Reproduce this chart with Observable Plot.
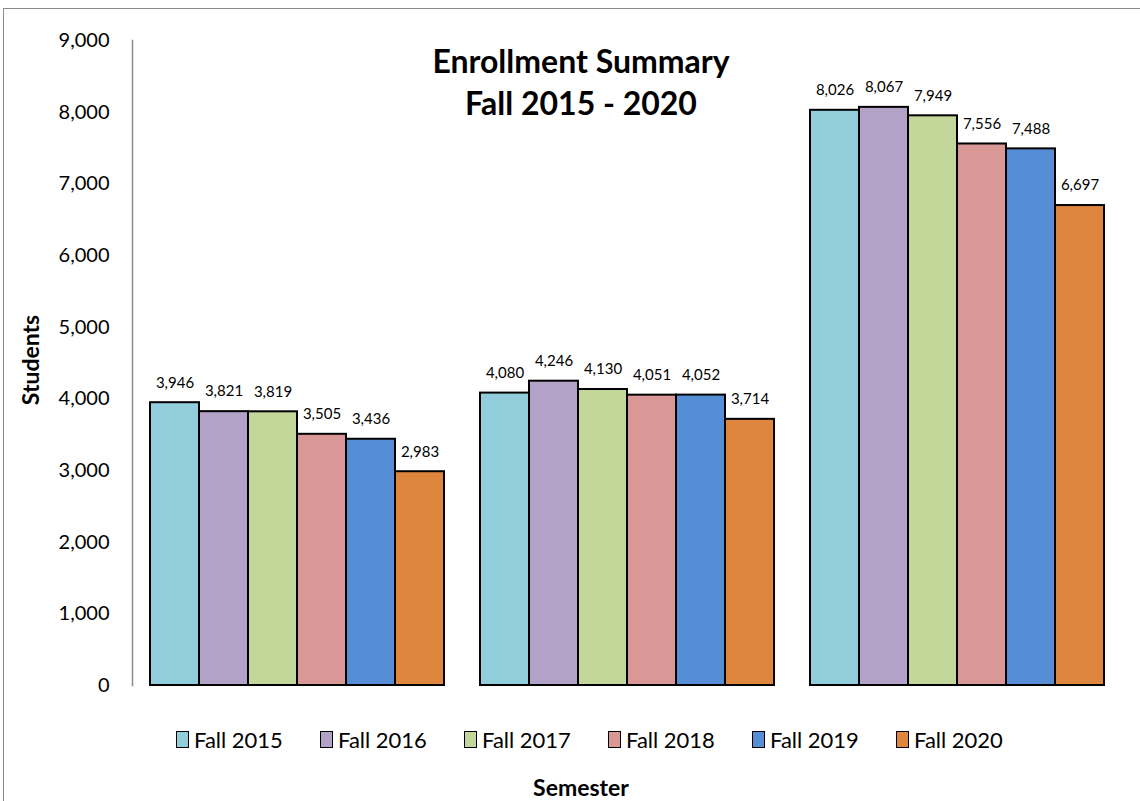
<!DOCTYPE html>
<html><head><meta charset="utf-8">
<script src="https://cdn.jsdelivr.net/npm/d3@7"></script>
<script src="https://cdn.jsdelivr.net/npm/@observablehq/plot@0.6"></script>
<style>
body{margin:0;background:#fff;font-family:Lato,"Open Sans",sans-serif;}
#wrap{position:relative;width:1140px;height:801px;overflow:hidden;background:#fff;}
#border{position:absolute;left:3px;top:8px;width:1300px;height:1000px;border:1.5px solid #8c8c8c;box-sizing:border-box;}
#chart{position:absolute;left:0;top:0;}
#title{position:absolute;left:381px;width:400px;top:40px;text-align:center;font-weight:bold;font-size:32px;line-height:42px;color:#000;}
#ylabel{position:absolute;left:30px;top:360px;transform:translate(-50%,-50%) rotate(-90deg);font-weight:bold;font-size:23px;white-space:nowrap;}
#xlabel{position:absolute;left:581px;top:787px;transform:translate(-50%,-50%);font-weight:bold;font-size:23px;white-space:nowrap;}
#legend{position:absolute;left:176px;top:726px;display:flex;}
.item{display:flex;align-items:center;width:144px;font-size:22px;height:26px;}
.sw{width:11px;height:15px;border:1.5px solid #000;margin-right:5px;}
</style></head><body>
<div id="wrap">
<div id="border"></div>
<div id="chart"></div>
<div id="title">Enrollment Summary<br>Fall 2015 - 2020</div>
<div id="ylabel">Students</div>
<div id="legend"></div>
<div id="xlabel">Semester</div>
</div>
<script>
const groups = ["Part-Time", "Full-Time", "Total"];
const semesters = ["Fall 2015", "Fall 2016", "Fall 2017", "Fall 2018", "Fall 2019", "Fall 2020"];
const partTime = [3946, 3821, 3819, 3505, 3436, 2983];
const fullTime = [4080, 4246, 4130, 4051, 4052, 3714];
const total = [8026, 8067, 7949, 7556, 7488, 6697];
const colors = ["#92CDDC", "#B3A2C7", "#C4D79B", "#D99795", "#558ED5", "#DE853E"];
const yTicks = [0, 1000, 2000, 3000, 4000, 5000, 6000, 7000, 8000, 9000];

const series = [partTime, fullTime, total];
const data = [];
groups.forEach((g, gi) => semesters.forEach((s, si) => data.push({group: g, semester: s, value: series[gi][si]})));
const fmt = d3.format(",");

const chart = Plot.plot({
  width: 1140, height: 700,
  marginTop: 40, marginBottom: 15, marginLeft: 131, marginRight: 17,
  style: {fontFamily: "Lato, sans-serif", background: "transparent"},
  fx: {domain: groups, paddingInner: 0.11, paddingOuter: 0.055, axis: null, label: null},
  x: {domain: semesters, padding: 0, axis: null},
  y: {domain: [0, 9000], label: null},
  color: {domain: semesters, range: colors},
  marks: [
    Plot.barY(data, {fx: "group", x: "semester", y: "value", fill: "semester", stroke: "#000", strokeWidth: 2}),
    Plot.text(data, {fx: "group", x: "semester", y: "value", text: d => fmt(d.value), dy: -20, fontSize: 15, fill: "#000"}),
    Plot.axisY({ticks: yTicks, tickFormat: fmt, tickSize: 0, tickPadding: 41, fontSize: 20, label: null, fill: "#000"}),
    Plot.frame({anchor: "left", facetAnchor: "left", dx: -18, stroke: "#8c8c8c", strokeWidth: 1.5})
  ]
});
document.getElementById("chart").appendChild(chart);

const legend = d3.select("#legend");
semesters.forEach((s, i) => {
  const it = legend.append("div").attr("class", "item");
  it.append("div").attr("class", "sw").style("background", colors[i]);
  it.append("span").text(s);
});
</script>
</body></html>
